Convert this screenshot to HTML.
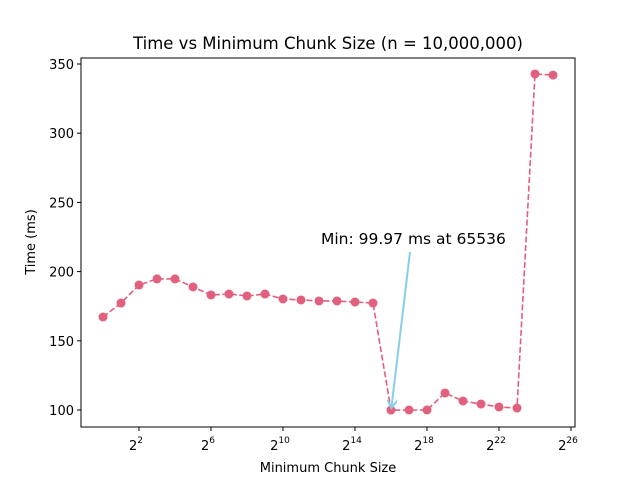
<!DOCTYPE html>
<html><head><meta charset="utf-8"><style>
body{margin:0;background:#fff;}
svg text{font-family:"DejaVu Sans","Liberation Sans",sans-serif;fill:#000;}
</style></head><body>
<svg width="640" height="480" viewBox="0 0 640 480">
<defs><marker id="ah" markerWidth="10" markerHeight="10" refX="7" refY="5" orient="auto" markerUnits="userSpaceOnUse"><path d="M0,0 L8,5 L0,10" fill="none" stroke="#87ceeb" stroke-width="2"/></marker></defs>
<rect x="0" y="0" width="640" height="480" fill="#fff"/>
<text x="328" y="49" font-size="16.5" text-anchor="middle">Time vs Minimum Chunk Size (n = 10,000,000)</text>
<g id="series"></g>
<rect x="81" y="58" width="494" height="369" fill="none" stroke="#000" stroke-width="1"/>
<g id="xt"></g><g id="yt"></g>
<text x="328" y="472" font-size="13" text-anchor="middle">Minimum Chunk Size</text>
<text x="35" y="242" font-size="13" text-anchor="middle" transform="rotate(-90 35 242)">Time (ms)</text>
<g id="ann"></g>
</svg>
<script>
const exponents=[0,1,2,3,4,5,6,7,8,9,10,11,12,13,14,15,16,17,18,19,20,21,22,23,24,25];
const times=[167.2,177.3,190.3,194.7,194.7,188.9,183.1,183.8,182.4,183.8,180.2,179.5,178.8,178.8,178,177.3,99.97,100,100,112.3,106.5,104.3,102.2,101.4,342.8,342];
const xTickExps=[2,6,10,14,18,22,26];
const yTicks=[100,150,200,250,300,350];
const annText="Min: 99.97 ms at 65536";
const NS="http://www.w3.org/2000/svg";
const X=e=>103+e*18;
const Y=v=>410-(v-100)*1.384;
function mk(t,a,p){const el=document.createElementNS(NS,t);for(const k in a)el.setAttribute(k,a[k]);p.appendChild(el);return el;}
const xt=document.getElementById('xt');
xTickExps.forEach(e=>{
 const l=mk('line',{x1:X(e),x2:X(e),y1:427,y2:431,stroke:'#000'},xt);
 
 
 const t=mk('text',{x:X(e)-3,y:450,'font-size':13,'text-anchor':'middle'},xt);
 
 
 t.textContent='2';
 const s=mk('tspan',{dy:-7,'font-size':9},t);s.textContent=e;
});
const yt=document.getElementById('yt');
yTicks.forEach(v=>{
 const l=mk('line',{x1:77,x2:81,y1:Y(v),y2:Y(v),stroke:'#000'},yt);
 
 
 const t=mk('text',{x:74,y:Y(v)+5,'font-size':13,'text-anchor':'end'},yt);
 
 
 t.textContent=v;
});
const sg=document.getElementById('series');
const pts=exponents.map((e,i)=>X(e)+','+Y(times[i])).join(' ');
const pl=mk('polyline',{points:pts,fill:'none',stroke:'#e0607e','stroke-width':1.6,'stroke-dasharray':'6,2.5'},sg);


exponents.forEach((e,i)=>{
 const c=mk('circle',{cx:X(e),cy:Y(times[i]),r:4.5,fill:'#e0607e'},sg);
 
 
});
let mi=0;times.forEach((v,i)=>{if(v<times[mi])mi=i;});
const ag=document.getElementById('ann');
const ar=mk('line',{x1:410,y1:252,x2:X(exponents[mi])+0.5,y2:Y(times[mi])-3,stroke:'#87ceeb','stroke-width':2,'marker-end':'url(#ah)'},ag);


const at=mk('text',{x:321,y:244,'font-size':15.5,'text-anchor':'start'},ag);


at.textContent=annText;
</script>
</body></html>
